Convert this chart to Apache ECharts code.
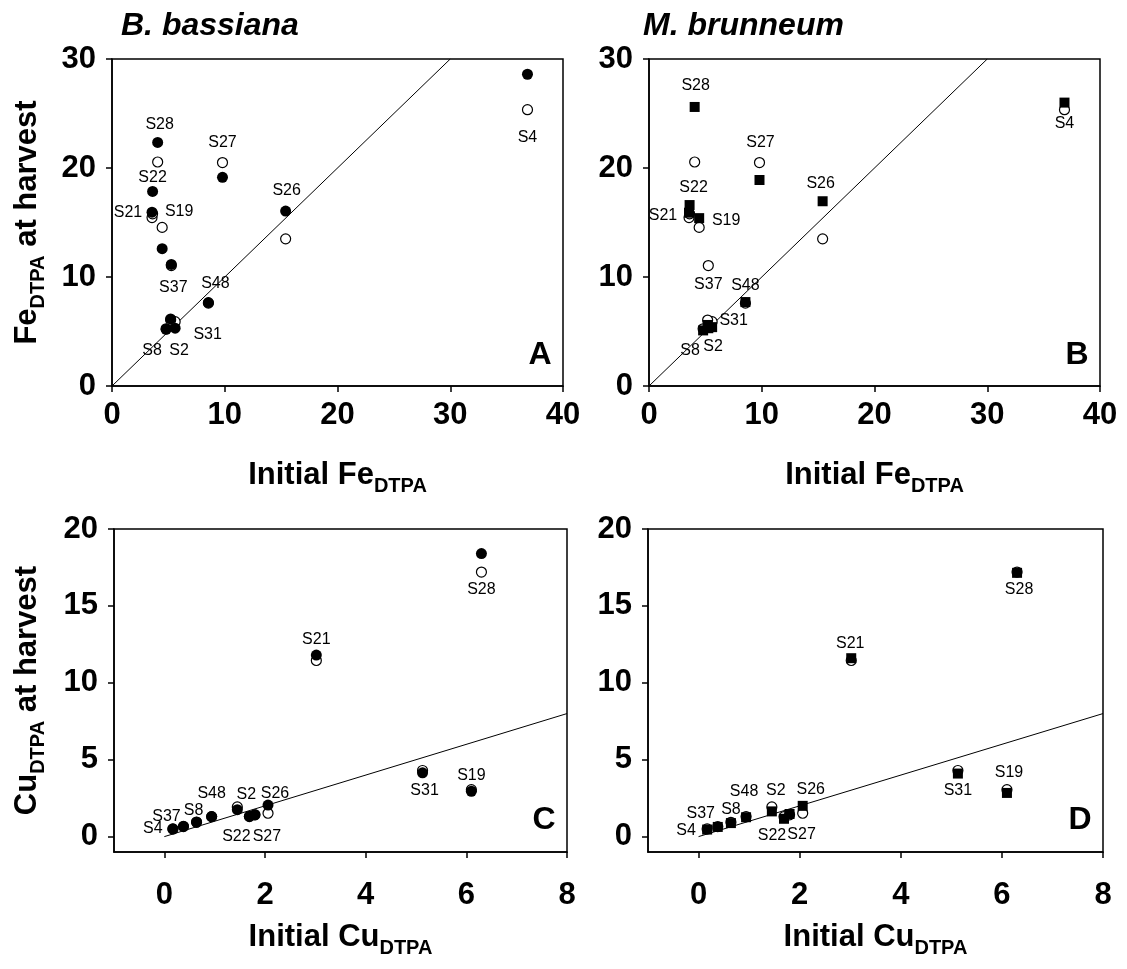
<!DOCTYPE html>
<html>
<head>
<meta charset="utf-8">
<title>Fe and Cu DTPA at harvest</title>
<script src="https://cdn.jsdelivr.net/npm/echarts@6.0.0/dist/echarts.min.js"></script>
<style>
  html, body { margin: 0; padding: 0; background: #fff; }
  #chart { width: 1127px; height: 969px; }
</style>
</head>
<body>
<div id="chart"></div>
<script>
// soils, same order in every array below
const soils = ['S2', 'S4', 'S8', 'S19', 'S21', 'S22', 'S26', 'S27', 'S28', 'S31', 'S37', 'S48'];

// Fe (DTPA)
const feInitial  = [5.6, 36.85, 4.8, 4.45, 3.55, 3.6, 15.4, 9.8, 4.05, 5.2, 5.26, 8.55];
const feControl  = [5.9, 25.35, 5.25, 14.55, 15.45, 15.8, 13.5, 20.5, 20.55, 6.05, 11.05, 7.6];
const feBassiana = [5.3, 28.6, 5.2, 12.6, 15.95, 17.85, 16.05, 19.15, 22.35, 6.15, 11.15, 7.65];
const feBrunneum = [5.4, 26.0, 5.1, 15.4, 15.9, 16.6, 16.95, 18.9, 25.6, 5.6, 5.3, 7.7];

// Cu (DTPA)
const cuInitial  = [1.45, 0.17, 0.64, 6.1, 3.02, 1.69, 2.06, 1.8, 6.3, 5.13, 0.38, 0.94];
const cuControl  = [1.93, 0.5, 0.93, 3.05, 11.45, 1.3, 1.52, 1.42, 17.2, 4.3, 0.65, 1.3];
const cuBassiana = [1.75, 0.5, 0.95, 2.95, 11.8, 1.33, 2.05, 1.42, 18.4, 4.15, 0.68, 1.3];
const cuBrunneum = [1.64, 0.46, 0.88, 2.84, 11.6, 1.16, 2.0, 1.47, 17.15, 4.1, 0.63, 1.26];

// 1:1 lines
const oneToOneFe = [[0, 0], [30, 30]];
const oneToOneCu = [[0, 0], [8, 8]];

// tick labels
const feXTicks = [0, 10, 20, 30, 40];
const feYTicks = [0, 10, 20, 30];
const cuXTicks = [0, 2, 4, 6, 8];
const cuYTicks = [0, 5, 10, 15, 20];

// label offsets (px) from the filled marker, per panel
const labelOffsets = {
  A: { S2: [4, 22], S4: [0, 63], S8: [-14, 21], S19: [17, -37], S21: [-24, 0], S22: [0, -14],
       S26: [1, -20], S27: [0, -35], S28: [2, -18], S31: [37, 16], S37: [2, 23], S48: [7, -19] },
  B: { S2: [1, 19], S4: [0, 21], S8: [-13, 20], S19: [27, 2], S21: [-26, 3], S22: [4, -17],
       S26: [-2, -18], S27: [1, -37], S28: [1, -21], S31: [26, -4], S37: [0, -44], S48: [0, -16] },
  C: { S2: [9, -15], S4: [-20, 0], S8: [-3, -11], S19: [0, -16], S21: [0, -16], S22: [-13, 20],
       S26: [7, -11], S27: [12, 22], S28: [0, 36], S31: [2, 18], S37: [-17, -10], S48: [0, -23] },
  D: { S2: [4, -21], S4: [-21, 1], S8: [0, -13], S19: [2, -20], S21: [-1, -15], S22: [-12, 17],
       S26: [8, -16], S27: [12, 21], S28: [2, 17], S31: [0, 17], S37: [-17, -13], S48: [-2, -26] }
};

const font = 'Liberation Sans, Arial, sans-serif';
const chart = echarts.init(document.getElementById('chart'));

function points(xs, ys, offsets) {
  return soils.map((s, i) => {
    const item = { name: s, value: [xs[i], ys[i]] };
    if (offsets) item.label = { offset: offsets[s] };
    return item;
  });
}

const nameRich = {
  m: { fontSize: 31, fontWeight: 'bold', fontFamily: font, color: '#000', lineHeight: 31, verticalAlign: 'top' },
  s: { fontSize: 20, fontWeight: 'bold', fontFamily: font, color: '#000', lineHeight: 52 }
};

function xAxis(i, min, max, ticks, name, margin, gap) {
  return {
    type: 'value', gridIndex: i, min: min, max: max,
    name: name, nameLocation: 'middle', nameGap: gap,
    nameTextStyle: { rich: nameRich },
    axisLine: { show: true, onZero: false, lineStyle: { color: '#000', width: 1.5 } },
    axisTick: { show: true, inside: false, length: 6, lineStyle: { color: '#000', width: 1.5 }, customValues: ticks },
    axisLabel: { customValues: ticks, margin: margin, color: '#000', fontSize: 31, fontWeight: 'bold', fontFamily: font },
    splitLine: { show: false }
  };
}

function yAxis(i, min, max, ticks, name, gap) {
  return {
    type: 'value', gridIndex: i, min: min, max: max,
    name: name, nameLocation: 'middle', nameGap: gap,
    nameTextStyle: { rich: nameRich },
    axisLine: { show: true, onZero: false, lineStyle: { color: '#000', width: 1.5 } },
    axisTick: { show: true, inside: false, length: 6, lineStyle: { color: '#000', width: 1.5 }, customValues: ticks },
    axisLabel: { customValues: ticks, margin: 16, color: '#000', fontSize: 31, fontWeight: 'bold', fontFamily: font },
    splitLine: { show: false }
  };
}

function lineSeries(i, data) {
  return {
    type: 'line', xAxisIndex: i, yAxisIndex: i, data: data, symbol: 'none', silent: true,
    lineStyle: { color: '#000', width: 1 }, z: 1
  };
}

function openSeries(i, xs, ys) {
  return {
    type: 'scatter', xAxisIndex: i, yAxisIndex: i, data: points(xs, ys), symbol: 'circle', symbolSize: 10,
    itemStyle: { color: '#fff', borderColor: '#000', borderWidth: 1.2, opacity: 1 }, z: 2
  };
}

function filledSeries(i, xs, ys, symbol, size, offsets) {
  return {
    type: 'scatter', xAxisIndex: i, yAxisIndex: i, data: points(xs, ys, offsets), symbol: symbol, symbolSize: size,
    itemStyle: { color: '#000', opacity: 1 }, z: 3,
    label: {
      show: true, position: 'inside', formatter: '{b}', color: '#000',
      fontSize: 16, fontFamily: font, align: 'center', verticalAlign: 'middle'
    }
  };
}

const feXName = '{m|Initial Fe}{s|DTPA}';
const feYName = '{m|Fe}{s|DTPA}{m| at harvest}';
const cuXName = '{m|Initial Cu}{s|DTPA}';
const cuYName = '{m|Cu}{s|DTPA}{m| at harvest}';

chart.setOption({
  animation: false,
  backgroundColor: '#fff',
  grid: [
    { left: 112, top: 59, width: 451, height: 327 },
    { left: 649, top: 59, width: 451, height: 327 },
    { left: 114, top: 529, width: 453, height: 323 },
    { left: 648, top: 529, width: 455, height: 323 }
  ].map(g => Object.assign(g, { show: true, borderColor: '#000', borderWidth: 1.5, containLabel: false })),
  xAxis: [
    xAxis(0, 0, 40, feXTicks, feXName, 14, 74),
    xAxis(1, 0, 40, feXTicks, feXName, 14, 74),
    xAxis(2, -1, 8, cuXTicks, cuXName, 28, 70),
    xAxis(3, -1, 8, cuXTicks, cuXName, 28, 70)
  ],
  yAxis: [
    yAxis(0, 0, 30, feYTicks, feYName, 48),
    yAxis(1, 0, 30, feYTicks, '', 48),
    yAxis(2, -1, 20, cuYTicks, cuYName, 50),
    yAxis(3, -1, 20, cuYTicks, '', 50)
  ],
  graphic: [
    { type: 'text', left: 121, top: 10, style: { text: 'B. bassiana', font: 'italic bold 32px ' + font, fill: '#000' } },
    { type: 'text', left: 643, top: 10, style: { text: 'M. brunneum', font: 'italic bold 32px ' + font, fill: '#000' } },
    { type: 'text', x: 540, y: 355, style: { text: 'A', font: 'bold 32px ' + font, fill: '#000', align: 'center', verticalAlign: 'middle' } },
    { type: 'text', x: 1077, y: 355, style: { text: 'B', font: 'bold 32px ' + font, fill: '#000', align: 'center', verticalAlign: 'middle' } },
    { type: 'text', x: 544, y: 820, style: { text: 'C', font: 'bold 32px ' + font, fill: '#000', align: 'center', verticalAlign: 'middle' } },
    { type: 'text', x: 1080, y: 820, style: { text: 'D', font: 'bold 32px ' + font, fill: '#000', align: 'center', verticalAlign: 'middle' } }
  ],
  series: [
    lineSeries(0, oneToOneFe),
    openSeries(0, feInitial, feControl),
    filledSeries(0, feInitial, feBassiana, 'circle', 11, labelOffsets.A),
    lineSeries(1, oneToOneFe),
    openSeries(1, feInitial, feControl),
    filledSeries(1, feInitial, feBrunneum, 'rect', 10, labelOffsets.B),
    lineSeries(2, oneToOneCu),
    openSeries(2, cuInitial, cuControl),
    filledSeries(2, cuInitial, cuBassiana, 'circle', 11, labelOffsets.C),
    lineSeries(3, oneToOneCu),
    openSeries(3, cuInitial, cuControl),
    filledSeries(3, cuInitial, cuBrunneum, 'rect', 10, labelOffsets.D)
  ]
});
</script>
</body>
</html>
